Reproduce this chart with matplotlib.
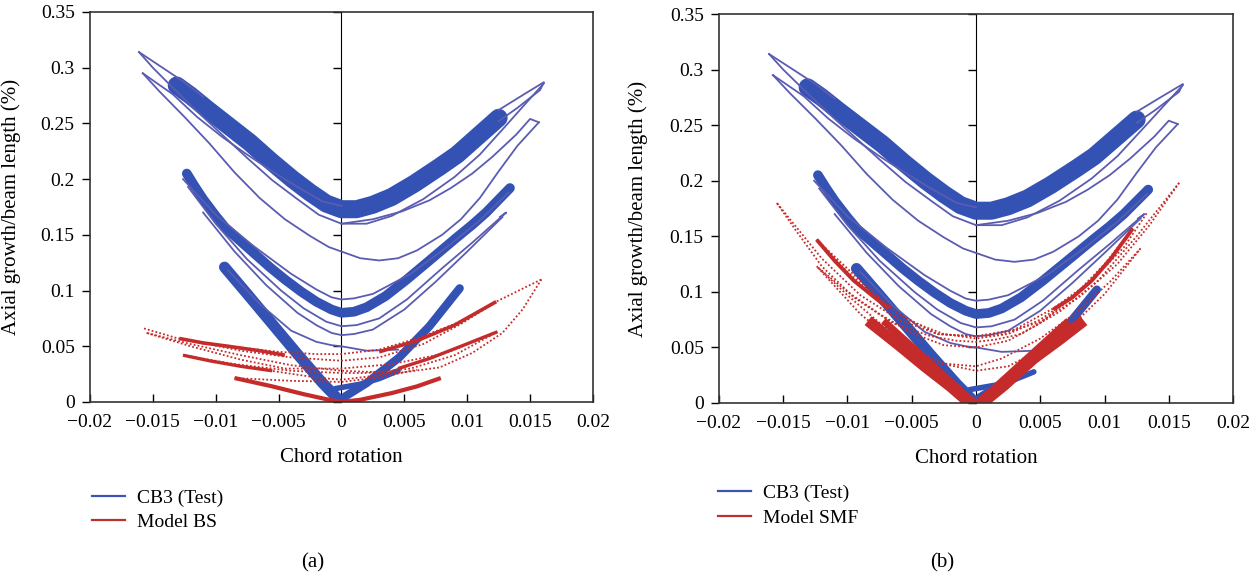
import numpy as np
import matplotlib.pyplot as plt
from matplotlib.lines import Line2D

plt.rcParams['font.family'] = ['Liberation Serif', 'DejaVu Serif']

# ---------------- CB3 test curves (same in both panels) ----------------
# thick band of the upper cycles
band_up_x = [-0.0131, -0.0120, -0.0107, -0.0090, -0.0073, -0.0056, -0.0039, -0.0025, -0.0012, 0.0,
             0.0012, 0.0025, 0.0040, 0.0058, 0.0078, 0.0092, 0.0104, 0.0116, 0.0125]
band_up_y = [0.284, 0.275, 0.263, 0.248, 0.233, 0.216, 0.200, 0.188, 0.178, 0.173,
             0.173, 0.177, 0.184, 0.196, 0.211, 0.222, 0.234, 0.246, 0.255]
# middle band
band_mid_x = [-0.0123, -0.0117, -0.0110, -0.0100, -0.0092, -0.0080, -0.0070, -0.0057, -0.0045, -0.0032,
              -0.0020, -0.0008, 0.0, 0.0010, 0.0020, 0.0035, 0.0052, 0.0070, 0.0091, 0.0104, 0.0115, 0.0134]
band_mid_y = [0.205, 0.194, 0.182, 0.167, 0.156, 0.144, 0.134, 0.121, 0.110, 0.099,
              0.090, 0.083, 0.080, 0.081, 0.085, 0.095, 0.110, 0.127, 0.147, 0.159, 0.170, 0.192]
# lowest band (left and right arms)
band_lo_l_x = [-0.0093, -0.0075, -0.0055, -0.0035, -0.0015, -0.0003]
band_lo_l_y = [0.121, 0.097, 0.070, 0.043, 0.017, 0.003]
band_lo_r_x = [0.0003, 0.0020, 0.0046, 0.0070, 0.0094]
band_lo_r_y = [0.005, 0.017, 0.040, 0.068, 0.102]
band_lo_s_x = [-0.0005, 0.0015, 0.0030, 0.0045]
band_lo_s_y = [0.012, 0.016, 0.021, 0.028]

# thin cycle lines, upper group
tu1_x = [-0.0161, -0.0150, -0.0135, -0.0115, -0.0095, -0.0075, -0.0055, -0.0035, -0.0018, 0.0,
         0.0020, 0.0040, 0.0065, 0.0090, 0.0110, 0.0130, 0.0145, 0.0161]
tu1_y = [0.314, 0.300, 0.283, 0.261, 0.240, 0.219, 0.199, 0.182, 0.168, 0.160,
         0.160, 0.167, 0.182, 0.202, 0.222, 0.247, 0.266, 0.286]
tu2_x = [-0.0158, -0.0145, -0.0125, -0.0105, -0.0085, -0.0065, -0.0045, -0.0025, -0.0010, 0.0,
         0.0015, 0.0030, 0.0045, 0.0060, 0.0080, 0.0095, 0.0110, 0.0125, 0.0140, 0.0157]
tu2_y = [0.295, 0.279, 0.256, 0.232, 0.206, 0.183, 0.164, 0.149, 0.139, 0.135,
         0.129, 0.127, 0.129, 0.136, 0.150, 0.164, 0.183, 0.207, 0.230, 0.251]
tu3_x = [0.0157, 0.0150, 0.0139, 0.0120, 0.0104, 0.0087, 0.0070, 0.0048, 0.0025, 0.0]
tu3_y = [0.251, 0.254, 0.240, 0.220, 0.205, 0.192, 0.181, 0.171, 0.164, 0.160]
tu4_x = [-0.0161, -0.0145, -0.0125, -0.0110]
tu4_y = [0.314, 0.302, 0.287, 0.274]
tu5_x = [-0.0158, -0.0134, -0.0115, -0.0095, -0.0075, -0.0055, -0.0035, -0.0015, 0.0]
tu5_y = [0.295, 0.276, 0.256, 0.238, 0.222, 0.207, 0.193, 0.180, 0.176]
tu6_x = [0.0125, 0.0145, 0.0161, 0.0158, 0.0140, 0.0125]
tu6_y = [0.262, 0.276, 0.287, 0.280, 0.264, 0.252]

# thin cycle lines, middle group
tm1_x = [-0.0126, -0.0100, -0.0070, -0.0040, -0.0020, -0.0008, 0.0, 0.0010, 0.0025, 0.0055, 0.0085, 0.0110, 0.0133]
tm1_y = [0.200, 0.168, 0.140, 0.115, 0.101, 0.094, 0.092, 0.093, 0.097, 0.115, 0.140, 0.163, 0.188]
tm2_x = [-0.0122, -0.0100, -0.0075, -0.0048, -0.0030, -0.0012, 0.0, 0.0012, 0.0030, 0.0052, 0.0080,
         0.0104, 0.0131, 0.0126]
tm2_y = [0.193, 0.160, 0.128, 0.100, 0.084, 0.072, 0.068, 0.069, 0.075, 0.092, 0.120,
         0.143, 0.170, 0.166]
tm3_x = [-0.0110, -0.0085, -0.0060, -0.0035, -0.0020, -0.0008, 0.0, 0.0010, 0.0025, 0.0050, 0.0075,
         0.0100, 0.0128]
tm3_y = [0.170, 0.135, 0.105, 0.080, 0.069, 0.062, 0.060, 0.061, 0.065, 0.083, 0.108, 0.135, 0.166]
tm4_x = [-0.0090, -0.0065, -0.0040, -0.0020, -0.0008, 0.0, 0.0020, 0.0045]
tm4_y = [0.118, 0.088, 0.064, 0.054, 0.051, 0.050, 0.046, 0.047]

# ---------------- Model BS (panel a) ----------------
bs1_x = [-0.0157, -0.0130, -0.0090, -0.0050, -0.0020, 0.0, 0.0030, 0.0060, 0.0090, 0.0123, 0.0159]
bs1_y = [0.066, 0.057, 0.050, 0.045, 0.043, 0.043, 0.047, 0.057, 0.070, 0.090, 0.110]
bs2_x = [0.0159, 0.0144, 0.0128, 0.0104, 0.0078, 0.0045, 0.0, -0.0040, -0.0080, -0.0120, -0.0155]
bs2_y = [0.110, 0.083, 0.062, 0.044, 0.031, 0.026, 0.028, 0.033, 0.042, 0.052, 0.062]
bs3_x = [-0.0155, -0.0120, -0.0080, -0.0045, 0.0, 0.0040, 0.0080]
bs3_y = [0.062, 0.050, 0.038, 0.030, 0.030, 0.034, 0.043]
bs4_x = [-0.0126, -0.0090, -0.0050, -0.0020, 0.0, 0.0030, 0.0060, 0.0090, 0.0124]
bs4_y = [0.042, 0.034, 0.027, 0.022, 0.020, 0.024, 0.035, 0.047, 0.063]
bsd1l_x = [-0.0129, -0.0110, -0.0090, -0.0065, -0.0045]
bsd1l_y = [0.057, 0.053, 0.050, 0.046, 0.042]
bsd1r_x = [0.0030, 0.0060, 0.0090, 0.0123]
bsd1r_y = [0.045, 0.055, 0.069, 0.090]
bsd2l_x = [-0.0126, -0.0105, -0.0080, -0.0055]
bsd2l_y = [0.042, 0.037, 0.032, 0.028]
bsd2r_x = [0.0045, 0.0070, 0.0095, 0.0124]
bsd2r_y = [0.030, 0.039, 0.050, 0.063]
bsd3_x = [-0.0085, -0.0055, -0.0030, -0.0010, 0.0, 0.0015, 0.0040, 0.0060, 0.0079]
bsd3_y = [0.0215, 0.014, 0.007, 0.002, 0.0, 0.002, 0.008, 0.014, 0.0215]
bsr1_x = [0.0123, 0.0095, 0.0065, 0.0030, 0.0, -0.0040, -0.0080, -0.0129]
bsr1_y = [0.090, 0.070, 0.052, 0.040, 0.037, 0.040, 0.046, 0.057]
bsr2_x = [0.0124, 0.0090, 0.0055, 0.0020, 0.0, -0.0040, -0.0085, -0.0126]
bsr2_y = [0.063, 0.042, 0.030, 0.026, 0.026, 0.028, 0.034, 0.042]
bsr3_x = [-0.0085, -0.0040, 0.0, 0.0030, 0.0060]
bsr3_y = [0.0215, 0.019, 0.018, 0.022, 0.029]

# ---------------- Model SMF (panel b) ----------------
sm1_x = [-0.0155, -0.0140, -0.0120, -0.0095, -0.0065, -0.0035, -0.0015, 0.0, 0.0015, 0.0035, 0.0065,
         0.0095, 0.0125, 0.0158]
sm1_y = [0.180, 0.155, 0.123, 0.095, 0.072, 0.060, 0.056, 0.055, 0.057, 0.062, 0.082, 0.110, 0.150, 0.198]
sm2_x = [0.0158, 0.0135, 0.0110, 0.0080, 0.0050, 0.0020, 0.0, -0.0030, -0.0060, -0.0090, -0.0120, -0.0155]
sm2_y = [0.198, 0.160, 0.125, 0.095, 0.073, 0.062, 0.060, 0.062, 0.075, 0.097, 0.130, 0.180]
sm6_x = [-0.0124, -0.0100, -0.0075, -0.0050, -0.0025, 0.0, 0.0025, 0.0050, 0.0075, 0.0100, 0.0122]
sm6_y = [0.147, 0.118, 0.092, 0.073, 0.062, 0.058, 0.062, 0.075, 0.095, 0.123, 0.157]
sm3_x = [0.0122, 0.0100, 0.0075, 0.0050, 0.0025, 0.0, -0.0025, -0.0050, -0.0075, -0.0100, -0.0124]
sm3_y = [0.157, 0.125, 0.095, 0.072, 0.056, 0.050, 0.052, 0.063, 0.080, 0.100, 0.123]
sm7_x = [-0.0124, -0.0100, -0.0075, -0.0050, -0.0025, 0.0, 0.0025, 0.0050, 0.0075, 0.0100, 0.0128]
sm7_y = [0.123, 0.097, 0.072, 0.050, 0.035, 0.029, 0.033, 0.048, 0.070, 0.098, 0.139]
sm4_x = [0.0128, 0.0105, 0.0080, 0.0050, 0.0020, 0.0, -0.0030, -0.0060, -0.0090, -0.0124]
sm4_y = [0.139, 0.110, 0.083, 0.058, 0.040, 0.033, 0.036, 0.052, 0.080, 0.123]
sm5_x = [-0.0124, -0.0090, -0.0060, -0.0030, 0.0, 0.0030, 0.0060, 0.0090, 0.0115, 0.0133]
sm5_y = [0.147, 0.110, 0.080, 0.062, 0.060, 0.066, 0.085, 0.110, 0.140, 0.171]
smd1l_x = [-0.0124, -0.0110, -0.0095, -0.0080, -0.0068]
smd1l_y = [0.147, 0.128, 0.110, 0.096, 0.085]
smd1r_x = [0.0060, 0.0075, 0.0090, 0.0105, 0.0122]
smd1r_y = [0.084, 0.095, 0.110, 0.130, 0.157]
smv_l_x = [-0.0084, -0.0060, -0.0040, -0.0020, -0.0005]
smv_l_y = [0.074, 0.052, 0.033, 0.015, 0.0]
smv_li_x = [-0.0072, -0.0050, -0.0030, -0.0012, -0.0001]
smv_li_y = [0.074, 0.051, 0.030, 0.011, 0.0]
smv_r_x = [0.0005, 0.0022, 0.0045, 0.0065, 0.0084]
smv_r_y = [0.0, 0.016, 0.040, 0.057, 0.074]
smv_ri_x = [0.0001, 0.0012, 0.0030, 0.0050, 0.0072]
smv_ri_y = [0.0, 0.011, 0.030, 0.051, 0.074]

x_ticks = [-0.02, -0.015, -0.01, -0.005, 0, 0.005, 0.01, 0.015, 0.02]
x_tick_labels = ['\u22120.02', '\u22120.015', '\u22120.01', '\u22120.005', '0', '0.005', '0.01', '0.015', '0.02']
y_ticks = [0, 0.05, 0.1, 0.15, 0.2, 0.25, 0.3, 0.35]
y_tick_labels = ['0', '0.05', '0.1', '0.15', '0.2', '0.25', '0.3', '0.35']

band_col = '#3352b4'
thin_col = '#5a5cb2'
red_col = '#c62b2b'

test_bands = [(band_up_x, band_up_y, 13), (band_mid_x, band_mid_y, 7),
              (band_lo_l_x, band_lo_l_y, 8), (band_lo_r_x, band_lo_r_y, 6),
              (band_lo_s_x, band_lo_s_y, 4)]
test_thin = [(tu1_x, tu1_y), (tu2_x, tu2_y), (tu3_x, tu3_y), (tu4_x, tu4_y),
             (tu5_x, tu5_y), (tu6_x, tu6_y), (tm1_x, tm1_y), (tm2_x, tm2_y),
             (tm3_x, tm3_y), (tm4_x, tm4_y)]

bs_thin = [(bs1_x, bs1_y), (bs2_x, bs2_y), (bs3_x, bs3_y), (bs4_x, bs4_y),
           (bsr1_x, bsr1_y), (bsr2_x, bsr2_y), (bsr3_x, bsr3_y)]
bs_dense = [(bsd1l_x, bsd1l_y, 2.6), (bsd1r_x, bsd1r_y, 2.6), (bsd2l_x, bsd2l_y, 2.4),
            (bsd2r_x, bsd2r_y, 2.4), (bsd3_x, bsd3_y, 3)]
smf_thin = [(sm1_x, sm1_y), (sm2_x, sm2_y), (sm3_x, sm3_y), (sm4_x, sm4_y), (sm5_x, sm5_y),
            (sm6_x, sm6_y), (sm7_x, sm7_y)]
smf_dense = [(smd1l_x, smd1l_y, 2.8), (smd1r_x, smd1r_y, 2.8),
             (smv_l_x, smv_l_y, 8), (smv_li_x, smv_li_y, 5),
             (smv_r_x, smv_r_y, 8), (smv_ri_x, smv_ri_y, 5)]


def draw_panel(ax, model_thin, model_dense, model_name):
    for xs, ys, w in test_bands:
        ax.plot(xs, ys, color=band_col, lw=w, solid_capstyle='round', solid_joinstyle='round')
    for xs, ys in test_thin:
        ax.plot(xs, ys, color=thin_col, lw=1.3)
    for xs, ys in model_thin:
        ax.plot(xs, ys, color=red_col, lw=1.3, ls=(0, (1, 1.2)))
    for xs, ys, w in model_dense:
        ax.plot(xs, ys, color=red_col, lw=w, solid_capstyle='butt')

    ax.set_xlim(-0.02, 0.02)
    ax.set_ylim(0, 0.35)
    ax.set_xticks(x_ticks)
    ax.set_xticklabels(x_tick_labels)
    ax.set_yticks(y_ticks)
    ax.set_yticklabels(y_tick_labels)
    ax.tick_params(axis='x', direction='in', length=6, width=1, labelsize=14, pad=9)
    ax.tick_params(axis='y', direction='out', length=6, width=1, labelsize=14, pad=5)
    for sp in ax.spines.values():
        sp.set_linewidth(1.2)
        sp.set_color('#333333')

    # zero line carrying inward y ticks
    mid = ax.secondary_yaxis(0.5)
    mid.set_yticks(y_ticks)
    mid.set_yticklabels([])
    mid.tick_params(direction='in', length=6, width=1)
    mid.spines['left'].set_linewidth(1.2)

    ax.set_xlabel('Chord rotation', fontsize=15, labelpad=12)
    ax.set_ylabel('Axial growth/beam length (%)', fontsize=15)
    ax.yaxis.set_label_coords(-0.138, 0.5)

    handles = [Line2D([], [], color='#3a55b5', lw=1.6),
               Line2D([], [], color='#b83232', lw=1.6)]
    return handles, ['CB3 (Test)', model_name]


fig = plt.figure(figsize=(12.6, 5.81), dpi=100)
ax_a = fig.add_axes([0.0714, 0.3081, 0.3992, 0.6713])
ax_b = fig.add_axes([0.5706, 0.3064, 0.4080, 0.6695])

h, l = draw_panel(ax_a, bs_thin, bs_dense, 'Model BS')
fig.legend(h, l, loc='upper left', bbox_to_anchor=(0.073, 0.158), frameon=False,
           fontsize=14, handlelength=1.7, handletextpad=0.6, labelspacing=0.35,
           borderpad=0, borderaxespad=0)
h, l = draw_panel(ax_b, smf_thin, smf_dense, 'Model SMF')
fig.legend(h, l, loc='upper left', bbox_to_anchor=(0.5698, 0.166), frameon=False,
           fontsize=14, handlelength=1.7, handletextpad=0.6, labelspacing=0.35,
           borderpad=0, borderaxespad=0)

fig.text(313 / 1260, 1 - 563 / 581, '(a)', fontsize=15, ha='center', va='center')
fig.text(942 / 1260, 1 - 563 / 581, '(b)', fontsize=15, ha='center', va='center')

fig.savefig('out.png', dpi=100)
